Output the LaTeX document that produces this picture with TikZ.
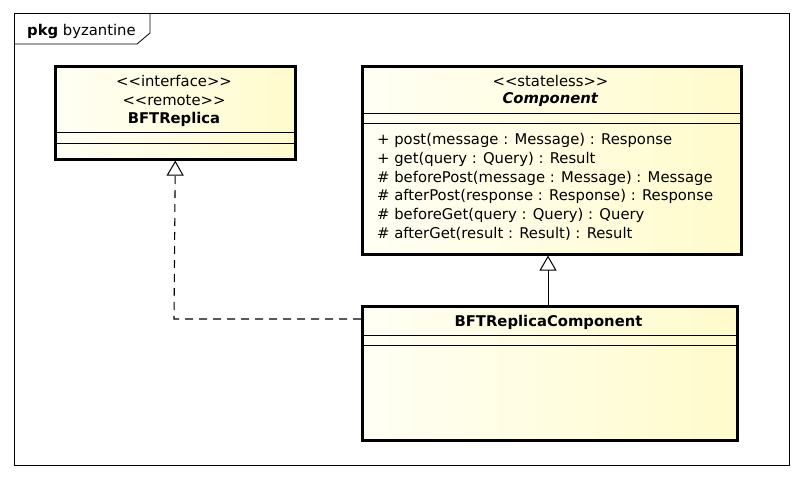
\documentclass[tikz,border=0pt]{standalone}
\usepackage{fontspec}
\setmainfont{DejaVu Sans}
\usetikzlibrary{arrows.meta}
\definecolor{fillL}{RGB}{255,255,244}
\definecolor{fillR}{RGB}{255,251,204}
\tikzset{
  classbox/.style={draw=black, line width=2.6pt, left color=fillL, right color=fillR, anchor=north west, inner sep=0pt},
  sepline/.style={line width=0.9pt},
  txt/.style={font=\fontsize{14.8}{16}\selectfont, inner sep=0pt},
  meth/.style={txt, anchor=base west},
  gen/.style={line width=0.9pt, -{Triangle[open, length=15pt, width=17pt, line width=1pt]}},
  real/.style={gen, line width=1.1pt, dash pattern=on 8pt off 6pt},
}
\begin{document}
\begin{tikzpicture}[x=1pt,y=-1pt]
\useasboundingbox (0,0) rectangle (801,478);
\fill[white] (0,0) rectangle (801,478);
% frame
\draw[line width=0.8pt] (14,13) rectangle (789,465);
\draw[line width=0.8pt] (14,44) -- (137,44) -- (150,33) -- (150,13);
\node[txt, anchor=base west] (pkg) at (27,36) {\textbf{pkg} byzantine};
% BFTReplica
\node[classbox, minimum width=240, minimum height=93] (bft) at (54,65) {};
\draw[sepline] (54,132) -- (294,132);
\draw[sepline] (54,143) -- (294,143);
\node[txt] (bft1) at (174,81) {<{}<interface>{}>};
\node[txt] (bft2) at (174,100) {<{}<remote>{}>};
\node[txt] (bft3) at (174,119) {\textbf{BFTReplica}};
% Component
\node[classbox, minimum width=379, minimum height=188] (comp) at (361,65) {};
\draw[sepline] (361,113) -- (740,113);
\draw[sepline] (361,123) -- (740,123);
\node[txt] (comp1) at (550.5,81) {<{}<stateless>{}>};
\node[txt] (comp2) at (550.5,100) {\textbf{\itshape Component}};
\node[meth] (m1) at (377,145) {+ post(message : Message) : Response};
\node[meth] (m2) at (377,164) {+ get(query : Query) : Result};
\node[meth] (m3) at (377,183) {\# beforePost(message : Message) : Message};
\node[meth] (m4) at (377,201) {\# afterPost(response : Response) : Response};
\node[meth] (m5) at (377,220) {\# beforeGet(query : Query) : Query};
\node[meth] (m6) at (377,239) {\# afterGet(result : Result) : Result};
% BFTReplicaComponent
\node[classbox, minimum width=375, minimum height=134] (brc) at (361,305) {};
\draw[sepline] (361,335) -- (736,335);
\draw[sepline] (361,345) -- (736,345);
\node[txt] (brc1) at (548.5,322) {\textbf{BFTReplicaComponent}};
% connectors
\draw[gen] (brc.north -| 548,0) -- (comp.south -| 548,0);
\coordinate (bend) at (174,319);
\draw[real] (brc.west |- 0,319) -- (bend) -- (bft.south);
\end{tikzpicture}
\end{document}
